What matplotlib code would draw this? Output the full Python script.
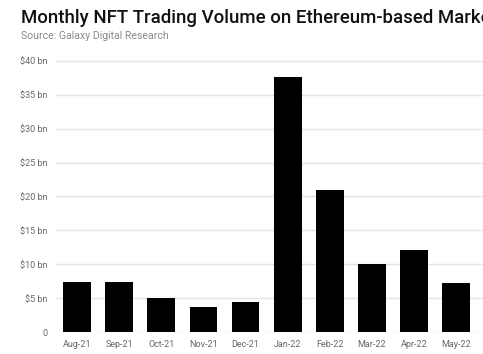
import matplotlib.pyplot as plt
import numpy as np

# data
months = ['Aug-21', 'Sep-21', 'Oct-21', 'Nov-21', 'Dec-21',
          'Jan-22', 'Feb-22', 'Mar-22', 'Apr-22', 'May-22']
volume_bn = [7.4, 7.4, 5.0, 3.7, 4.4, 37.6, 21.0, 10.1, 12.1, 7.3]
yticks = [0, 5, 10, 15, 20, 25, 30, 35, 40]
ylabels = ['0'] + ['$%d bn' % v for v in yticks[1:]]

fig = plt.figure(figsize=(4.83, 3.54), dpi=100)
ax = fig.add_axes([0.116, 0.062, 0.959, 0.785])

x = np.arange(len(months))
ax.bar(x, volume_bn, width=0.66, color='black', zorder=3)

ax.set_xlim(-0.5, 10.5)
ax.set_ylim(0, 41)
ax.set_yticks(yticks)
ax.set_yticklabels(ylabels)
ax.set_xticks(x)
ax.set_xticklabels(months)
ax.grid(axis='y', color='#e4e4e4', linewidth=1, zorder=0)
for s in ax.spines.values():
    s.set_visible(False)
ax.tick_params(length=0, labelsize=6.5, colors='#666666', pad=6)
for lbl in ax.get_xticklabels() + ax.get_yticklabels():
    lbl.set_family('Roboto')

# title runs off the right edge, as in the original
fig.text(0.043, 0.95, 'Monthly NFT Trading Volume on Ethereum-based Marketplaces',
         fontsize=13.4, fontweight='medium', family='Roboto', color='#111111',
         va='center', ha='left')
fig.text(0.043, 0.898, 'Source: Galaxy Digital Research',
         fontsize=7.6, family='Roboto', color='#8a8a8a', va='center', ha='left')

fig.savefig('out.png', dpi=100)
